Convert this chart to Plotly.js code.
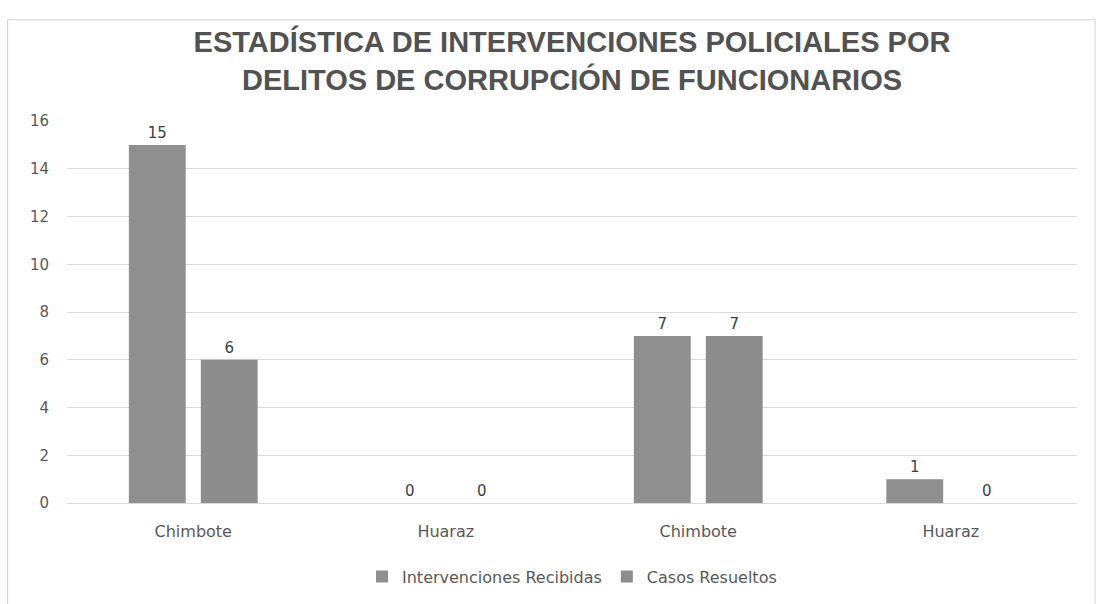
<!DOCTYPE html>
<html>
<head>
<meta charset="utf-8">
<script src="https://cdn.plot.ly/plotly-3.0.1.min.js"></script>
<style>html,body{margin:0;padding:0;background:#fff;}#chart{width:1102px;height:604px;}</style>
</head>
<body>
<div id="chart"></div>
<script>
const categories = ["Chimbote", "Huaraz", "Chimbote", "Huaraz"];
const seriesNames = ["Intervenciones Recibidas", "Casos Resueltos"];
const intervenciones = [15, 0, 7, 1];
const casos = [6, 0, 7, 0];
const yTicks = [0, 2, 4, 6, 8, 10, 12, 14, 16];

const xPos = categories.map((c, i) => i);
const FONT = "DejaVu Sans, Verdana, sans-serif";
const labelFont = {family: FONT, size: 15, color: "#404040"};

const traces = [
  {type: "bar", name: seriesNames[0], x: xPos, y: intervenciones,
   text: intervenciones.map(String), textposition: "outside", cliponaxis: false,
   textfont: labelFont, marker: {color: "#8f8f8f", line: {width: 0}}},
  {type: "bar", name: seriesNames[1], x: xPos, y: casos,
   text: casos.map(String), textposition: "outside", cliponaxis: false,
   textfont: labelFont, marker: {color: "#8c8c8c", line: {width: 0}}}
];

const layout = {
  width: 1102, height: 604,
  paper_bgcolor: "#ffffff", plot_bgcolor: "#ffffff",
  margin: {l: 67, r: 25, t: 121, b: 100},
  barmode: "group", bargap: 0.43, bargroupgap: 0.21,
  title: {text: "ESTADÍSTICA DE INTERVENCIONES POLICIALES POR<br>DELITOS DE CORRUPCIÓN DE FUNCIONARIOS",
          font: {family: "Liberation Sans, Arial, sans-serif", size: 29, color: "#525252", weight: "bold"},
          x: 0.5, xanchor: "center", xref: "paper", y: 0.914, yanchor: "middle"},
  xaxis: {tickmode: "array", tickvals: xPos, ticktext: categories, range: [-0.5, 3.5],
          showgrid: false, zeroline: false, showline: false, ticks: "",
          ticklabelstandoff: 17,
          tickfont: {family: FONT, size: 16, color: "#595959"}},
  yaxis: {range: [0, 16], tickmode: "array", tickvals: yTicks, ticktext: yTicks.map(String),
          showgrid: true, gridcolor: "#d9d9d9", gridwidth: 1, zeroline: true, zerolinecolor: "#d9d9d9",
          showline: false, ticks: "", ticklabelstandoff: 17,
          tickfont: {family: FONT, size: 15, color: "#595959"}},
  legend: {orientation: "h", x: 0.5, xanchor: "center", y: -0.145, yanchor: "top",
           font: {family: FONT, size: 16, color: "#595959"},
           itemwidth: 30},
  showlegend: true,
  shapes: [{type: "rect", xref: "paper", yref: "paper",
            x0: -0.0588, x1: 1.0179, y0: -0.268, y1: 1.265,
            line: {color: "#d0d0d0", width: 1}, fillcolor: "rgba(0,0,0,0)"}]
};

Plotly.newPlot("chart", traces, layout, {displayModeBar: false, staticPlot: true});
</script>
</body>
</html>
